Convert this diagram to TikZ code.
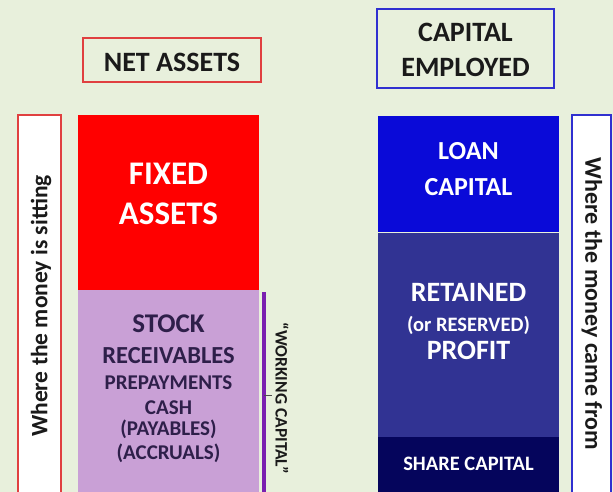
\documentclass[tikz,border=0pt]{standalone}
\usepackage{fontspec}
\setmainfont{Carlito}
\newcommand{\fsz}[1]{\fontsize{#1}{#1}\selectfont}
\begin{document}
\begin{tikzpicture}[x=1pt,y=-1pt,
  every node/.style={font=\bfseries, inner sep=0pt, outer sep=0pt},
  block/.style={draw=none, anchor=north west},
  headbox/.style={draw, line width=1.2pt, anchor=north west},
  sidebox/.style={draw, line width=1.2pt, fill=white, anchor=north west},
  lbl/.style={align=center, text=white},
  dark/.style={text=lilactext},
]
\definecolor{bgc}{HTML}{E8F0DC}
\definecolor{fixedred}{HTML}{FF0000}
\definecolor{lilac}{HTML}{C9A0D6}
\definecolor{lilactext}{HTML}{2E1F4A}
\definecolor{wcpurple}{HTML}{7A1FB0}
\definecolor{loanblue}{HTML}{0A0AD8}
\definecolor{retblue}{HTML}{313393}
\definecolor{sharenavy}{HTML}{05055C}
\definecolor{headred}{HTML}{E04040}
\definecolor{headblue}{HTML}{3030D0}
\definecolor{ink}{HTML}{1A1A1A}

% canvas
\fill[bgc] (0,0) rectangle (613,492);
\useasboundingbox (0,0) rectangle (613,492);

% headings
\node[headbox, draw=headred, minimum width=178pt, minimum height=44pt] (na) at (83,38) {};
\node[text=ink, font=\bfseries\fsz{28}] at (172,62) {NET ASSETS};
\node[headbox, draw=headblue, minimum width=177pt, minimum height=79pt] (ce) at (377,9) {};
\node[text=ink, font=\bfseries\fsz{28}] at (465.5,32) {CAPITAL};
\node[text=ink, font=\bfseries\fsz{28}] at (465.5,67.5) {EMPLOYED};

% side panels
\node[sidebox, draw=headred, minimum width=43pt, minimum height=390pt] (left) at (18,115) {};
\node[rotate=90, text=ink, font=\bfseries\fsz{23.5}] at (41,306) {Where the money is sitting};
\node[sidebox, draw=headblue, minimum width=39pt, minimum height=390pt] (right) at (572,115) {};
\node[rotate=-90, text=ink, font=\bfseries\fsz{24}] at (592,304) {Where the money came from};

% net assets column
\node[block, fill=fixedred, minimum width=181pt, minimum height=175pt] (fa) at (78,115) {};
\node[lbl, font=\bfseries\fsz{33}] at (168.5,174) {FIXED};
\node[lbl, font=\bfseries\fsz{33}] at (168.5,214) {ASSETS};
\node[block, fill=lilac, minimum width=181pt, minimum height=205pt] (wc) at (78,290) {};
\node[dark, font=\bfseries\fsz{27}] at (168.5,324) {STOCK};
\node[dark, font=\bfseries\fsz{24.5}] at (168.5,356) {RECEIVABLES};
\node[dark, font=\bfseries\fsz{21}] at (168.5,383) {PREPAYMENTS};
\node[dark, font=\bfseries\fsz{21}] at (168.5,408) {CASH};
\node[dark, font=\bfseries\fsz{21}] at (168.5,429) {(PAYABLES)};
\node[dark, font=\bfseries\fsz{21}] at (168.5,453) {(ACCRUALS)};

% working capital bracket
\coordinate (wctop) at (264,292);
\coordinate (wcbot) at (264,495);
\coordinate (wcmid) at (264,395);
\coordinate (wctick) at (272,395);
\draw[wcpurple, line width=3.5pt] (wctop) -- (wcbot);
\draw[black!70, line width=0.6pt] (wcmid) -- (wctick);
\node[rotate=-90, text=ink, font=\bfseries\fsz{17.5}] at (282,398) {“WORKING CAPITAL”};

% capital employed column
\node[block, fill=loanblue, minimum width=181pt, minimum height=116pt] (loan) at (378,116) {};
\node[lbl, font=\bfseries\fsz{26}] at (468.5,151) {LOAN};
\node[lbl, font=\bfseries\fsz{26}] at (468.5,187) {CAPITAL};
\node[block, fill=retblue, minimum width=181pt, minimum height=204pt] (ret) at (378,233) {};
\node[lbl, font=\bfseries\fsz{28}] at (468.5,292) {RETAINED};
\node[lbl, font=\bfseries\fsz{20.5}] at (468.5,325) {(or RESERVED)};
\node[lbl, font=\bfseries\fsz{28}] at (468.5,350) {PROFIT};
\node[block, fill=sharenavy, minimum width=181pt, minimum height=58pt] (share) at (378,437) {};
\node[lbl, font=\bfseries\fsz{20.5}] at (468.5,464) {SHARE CAPITAL};
\end{tikzpicture}
\end{document}
